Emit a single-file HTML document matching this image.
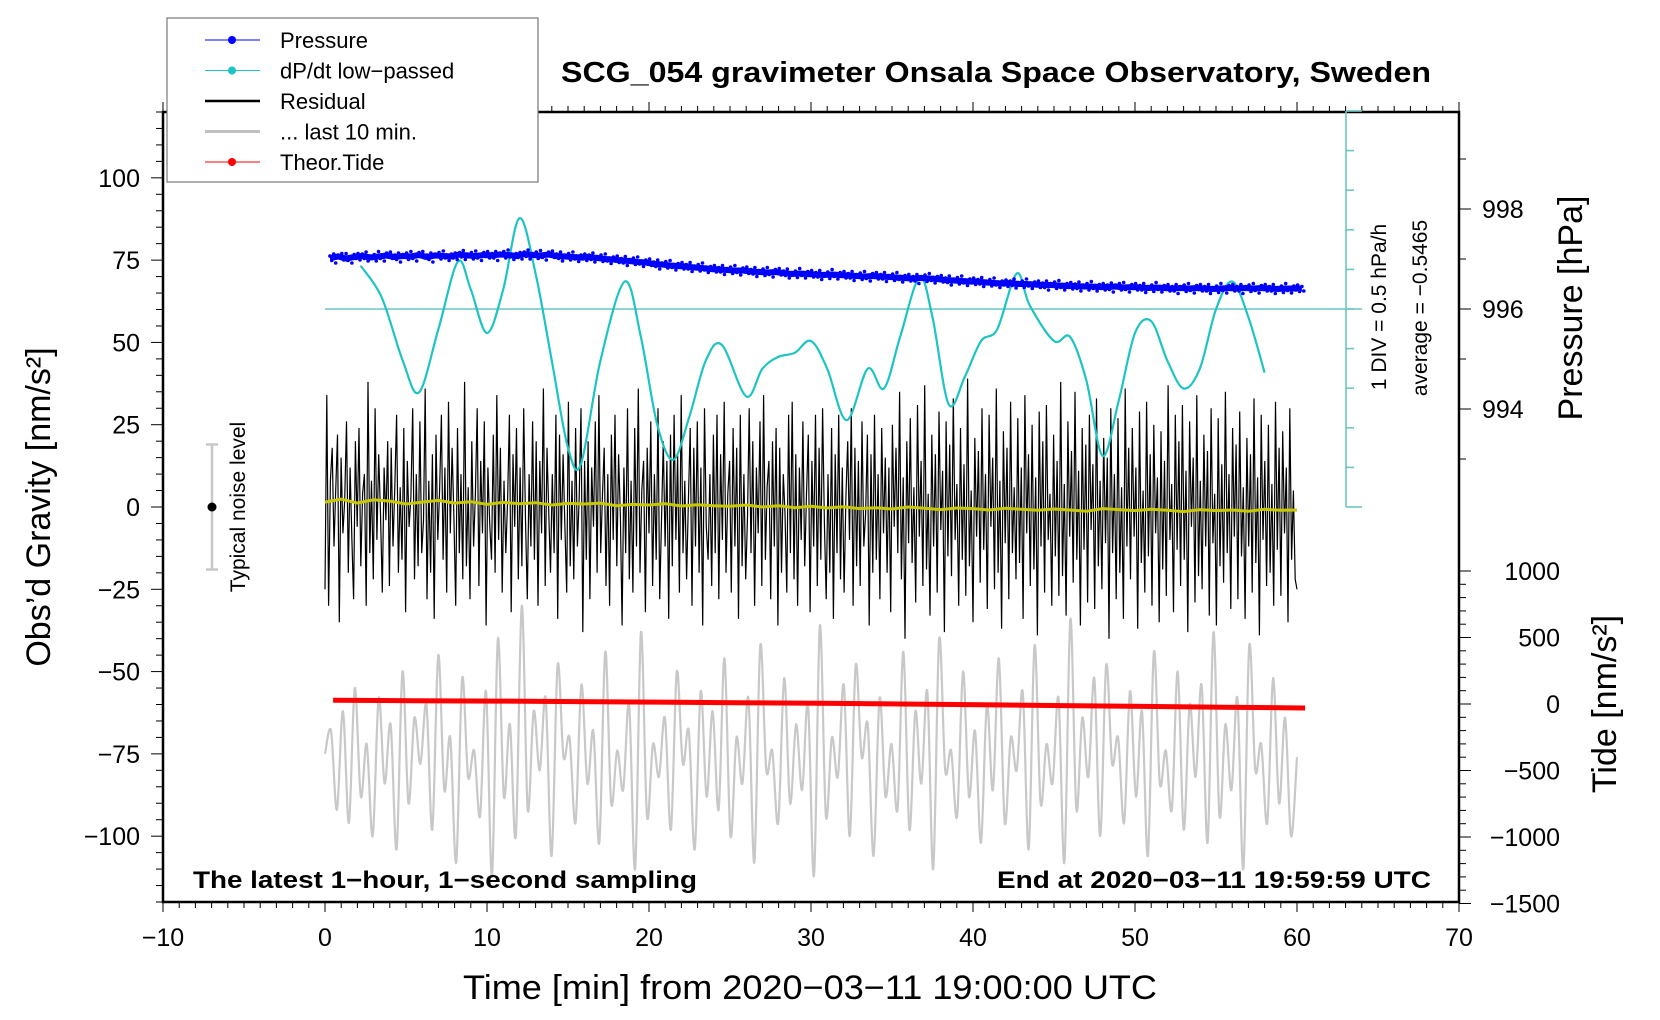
<!DOCTYPE html>
<html><head><meta charset="utf-8"><style>
html,body{margin:0;padding:0;background:#fff;}
svg{display:block;font-family:"Liberation Sans",sans-serif;}
</style></head><body>
<svg id="chart" width="1660" height="1020" viewBox="0 0 1660 1020" xmlns="http://www.w3.org/2000/svg">
<g id="layer-back"></g>
<g id="layer-axes"></g>
</svg>
<script>
// ---------- data ----------
const xTicks = [-10,0,10,20,30,40,50,60,70];
const yTicks = [-100,-75,-50,-25,0,25,50,75,100];
const pTicks = [994,996,998];
const tideTicks = [-1500,-1000,-500,0,500,1000];
// pressure (hPa), one value each 0.5 min from t=0.3
const pressure = [997.02,997.05,997.01,997.04,997.06,997.03,997.05,997.07,997.04,997.06,997.05,997.08,997.04,997.07,997.06,997.05,997.09,997.07,997.06,997.08,
997.07,997.09,997.08,997.06,997.1,997.08,997.07,997.09,997.06,997.05,997.04,997.03,997.04,997.02,997.0,996.99,996.97,996.96,996.94,996.93,
996.9,996.89,996.87,996.86,996.85,996.83,996.82,996.8,996.79,996.78,996.77,996.77,996.75,996.74,996.73,996.74,996.72,996.7,996.71,996.7,
996.69,996.68,996.69,996.68,996.67,996.66,996.65,996.66,996.65,996.64,996.63,996.62,996.61,996.62,996.61,996.6,996.58,996.57,996.56,996.55,
996.55,996.53,996.52,996.51,996.52,996.5,996.5,996.49,996.48,996.48,996.47,996.46,996.46,996.45,996.45,996.44,996.44,996.45,996.43,996.44,
996.43,996.42,996.43,996.42,996.41,996.42,996.41,996.42,996.41,996.4,996.41,996.42,996.41,996.42,996.41,996.42,996.41,996.4,996.41,996.41,996.41];
const pressureJitter = [0.04,-0.05,0.08,-0.1,0.03,-0.02,0.06,-0.07,0.1,-0.04,0.02,-0.09,0.05,-0.03,0.07,-0.06];
// dP/dt low-passed (hPa/h)
const dpTimes = [2.2,3.5,4.8,5.8,7.0,8.2,9.0,10.0,11.0,12.0,13.0,14.0,15.0,15.8,17.0,18.5,19.5,20.5,21.5,22.5,23.5,24.5,26.0,27.0,28.0,29.0,30.0,31.0,32.2,33.5,34.5,35.5,36.7,37.5,38.5,39.5,40.5,41.5,42.7,43.5,45.0,46.0,47.0,48.0,49.0,50.0,51.0,52.0,53.0,54.0,55.0,56.0,57.0,58.0];
const dpValues = [0.0,-0.4,-1.2,-1.6,-0.8,0.05,-0.3,-0.85,-0.3,0.6,-0.1,-1.2,-2.3,-2.5,-1.2,-0.2,-0.9,-2.0,-2.45,-1.9,-1.2,-1.0,-1.65,-1.3,-1.15,-1.1,-0.95,-1.3,-1.95,-1.3,-1.55,-0.9,-0.15,-0.65,-1.75,-1.4,-0.95,-0.8,-0.1,-0.5,-0.95,-0.9,-1.45,-2.4,-1.7,-0.85,-0.7,-1.2,-1.55,-1.3,-0.55,-0.2,-0.65,-1.35];
const dpAverage = -0.5465;
// residual (nm/s^2), every 6 s
const residual = [-25,34,-30,8,18,-12,5,22,-35,15,-8,2,26,-20,12,-10,-28,20,-6,24,-18,4,10,-30,38,-14,8,-22,30,-10,16,-2,-26,12,-4,20,-24,18,-12,6,
28,-20,6,-16,24,-32,14,-6,3,30,-22,10,-18,26,-14,-4,36,-28,8,-20,16,-34,22,-10,5,28,-16,12,-26,32,-8,18,-3,-30,24,-14,10,-22,38,-18,
6,-28,20,-12,4,30,-24,14,-8,26,-36,12,-5,-16,22,-20,34,-10,18,-26,8,-14,2,28,-32,16,-6,24,-22,12,-18,30,-4,-28,10,-12,26,-16,20,-30,
14,-8,36,-24,18,-2,-20,10,-14,28,-34,22,-10,16,-6,-26,32,-18,8,-22,24,-12,3,30,-38,14,-16,20,-28,12,-6,26,-20,34,-14,4,18,-24,10,-30,
22,-10,28,-18,16,-3,-36,12,-14,30,-22,8,-26,24,-12,36,-20,5,14,-32,18,-8,26,-24,10,-16,30,-28,-4,20,-12,14,-34,22,-18,28,-10,16,-26,
34,-14,8,-22,2,24,-30,18,-12,26,-20,12,-36,30,-6,-16,10,-24,22,-14,28,-28,16,-10,32,-20,4,14,-26,24,-12,18,-34,28,-18,10,-22,-3,30,
-14,20,-30,12,-8,26,-24,34,-16,6,14,-28,20,-12,24,-36,18,-20,10,-2,-26,28,-14,32,-22,16,-30,12,-10,26,-18,4,22,-32,14,-12,28,-24,18,
-16,30,-5,-28,10,-20,24,-34,16,-14,28,-22,12,-26,3,20,-10,30,-30,18,-18,14,-24,26,-12,-2,22,-36,16,-20,28,-16,10,-28,24,-8,15,-20,
12,-32,25,-6,18,-14,35,-22,9,-40,20,-11,27,-17,6,-29,31,-9,14,-24,37,-19,4,-33,22,-12,16,-26,29,-7,11,-38,26,-15,19,-21,33,-10,
7,-30,24,-16,13,-27,39,-18,5,-35,21,-9,17,-23,30,-13,10,-31,28,-6,15,-25,36,-20,8,-37,23,-11,18,-28,32,-14,6,-22,27,-17,12,-34,
34,-8,16,-24,25,-19,9,-39,29,-12,20,-26,31,-10,4,-30,22,-15,14,-27,38,-21,7,-33,26,-9,17,-23,35,-16,11,-36,24,-13,19,-29,28,-7,
13,-31,33,-18,8,-25,21,-11,15,-40,30,-14,10,-28,27,-20,6,-34,36,-12,18,-22,24,-9,12,-37,29,-17,5,-26,32,-15,16,-30,25,-8,9,-35,
23,-19,14,-27,37,-10,7,-32,28,-13,20,-24,31,-16,11,-38,26,-6,15,-29,34,-21,8,-25,22,-12,17,-33,30,-11,4,-36,27,-18,13,-23,35,-14,
10,-31,24,-9,19,-28,29,-15,6,-34,21,-12,16,-26,33,-17,9,-39,28,-10,14,-24,25,-20,7,-30,32,-13,18,-27,23,-8,12,-35,30,-16,5,-22,-25];
// yellow smoothed residual, every 1 min
const smooth = [1.5,2.4,1.2,2.2,1.8,0.9,1.5,2.0,1.2,1.6,0.8,1.4,1.0,1.3,0.6,1.1,0.9,1.2,0.4,0.8,0.6,1.0,0.3,0.7,0.4,0.2,0.6,0.0,0.4,-0.2,
0.2,-0.3,0.1,-0.5,-0.2,-0.6,0.0,-0.4,-0.8,-0.3,-0.5,-0.9,-0.4,-0.7,-1.0,-0.6,-0.9,-1.3,-0.5,-0.8,-1.1,-0.7,-1.0,-1.4,-0.8,-1.1,-0.9,-1.3,-0.7,-1.0,-0.9];
// last 10 min (shifted, nm/s^2 on left axis), every 0.35 min
const last10 = [-75,-68,-92,-62,-96,-55,-88,-72,-100,-58,-84,-66,-104,-50,-90,-64,-78,-60,-98,-45,-86,-70,-108,-52,-82,-74,-94,-56,-112,-40,
-88,-66,-100,-30,-92,-62,-80,-58,-106,-48,-76,-70,-96,-54,-84,-68,-102,-44,-90,-74,-86,-60,-110,-38,-94,-72,-82,-64,-98,-50,
-78,-68,-104,-56,-88,-62,-92,-46,-100,-70,-84,-58,-108,-42,-80,-74,-96,-52,-90,-66,-86,-60,-112,-36,-94,-70,-82,-54,-100,-48,
-76,-66,-106,-58,-88,-72,-92,-44,-98,-62,-84,-56,-110,-40,-80,-74,-94,-50,-88,-68,-102,-60,-86,-46,-96,-70,-80,-56,-104,-42,
-90,-72,-84,-58,-108,-34,-92,-64,-82,-52,-100,-48,-78,-70,-96,-56,-88,-62,-106,-44,-84,-74,-92,-50,-98,-60,-82,-54,-102,-38,
-94,-66,-86,-58,-110,-42,-80,-72,-96,-52,-90,-64,-100,-76];
// theoretical tide (nm/s^2), every 5 min from 0.5
const tide = [28,25,22,18,14,10,5,0,-6,-12,-18,-24,-30];

// ---------- scales ----------
const X0=163, X1=1459, Y0=902, Y1=112;
const xs = t => X0 + (t+10)*(X1-X0)/80;
const ys = v => 507 - v*(Y0-Y1)/240;
const ps = p => 309 - (p-996)*50;
const ts = v => 704 - v*66.5/500;
const dps = v => 309 - (v-dpAverage)/0.5*39.6;

const NS="http://www.w3.org/2000/svg";
const back=document.getElementById('layer-back');
const axes=document.getElementById('layer-axes');
function mk(tag, attrs, parent, text){
  const e=document.createElementNS(NS,tag);
  for(const k in attrs) e.setAttribute(k,attrs[k]);
  if(text!==undefined) e.textContent=text;
  parent.appendChild(e); return e;
}
function smoothPath(pts){
  let d='M'+pts[0][0].toFixed(1)+' '+pts[0][1].toFixed(1);
  for(let i=0;i<pts.length-1;i++){
    const p0=pts[Math.max(0,i-1)],p1=pts[i],p2=pts[i+1],p3=pts[Math.min(pts.length-1,i+2)];
    const c1=[p1[0]+(p2[0]-p0[0])/6,p1[1]+(p2[1]-p0[1])/6];
    const c2=[p2[0]-(p3[0]-p1[0])/6,p2[1]-(p3[1]-p1[1])/6];
    d+=`C${c1[0].toFixed(1)} ${c1[1].toFixed(1)} ${c2[0].toFixed(1)} ${c2[1].toFixed(1)} ${p2[0].toFixed(1)} ${p2[1].toFixed(1)}`;
  }
  return d;
}

// gray last-10-min
{
  const pts=last10.map((v,i)=>[xs(i*60/(last10.length-1)),ys(v)]);
  const e=mk('path',{d:smoothPath(pts),fill:'none',stroke:'#c8c8c8','stroke-width':2.2,'stroke-linejoin':'round'},back);
  
  
}
// residual
{
  let d='';
  residual.forEach((v,i)=>{const t=i*60/(residual.length-1); d+=(i?'L':'M')+xs(t).toFixed(1)+' '+ys(v).toFixed(1);});
  const e=mk('path',{d:d,fill:'none',stroke:'#000','stroke-width':1.2},back);
  
  
}
// yellow smooth
{
  let d='';
  smooth.forEach((v,i)=>{const t=i; d+=(i?'L':'M')+xs(t).toFixed(1)+' '+ys(v).toFixed(1);});
  const e=mk('path',{d:d,fill:'none',stroke:'#c8c800','stroke-width':3},back);
  
  
}
// red tide
{
  let d='';
  tide.forEach((v,i)=>{const t=0.5+i*5; d+=(i?'L':'M')+xs(t).toFixed(1)+' '+ts(v).toFixed(1);});
  const e=mk('path',{d:d,fill:'none',stroke:'#ff0000','stroke-width':5},back);
  
  
}
// cyan baseline & dP/dt
{
  const b=mk('line',{x1:xs(0),x2:1362,y1:dps(dpAverage),y2:dps(dpAverage),stroke:'#6cc6c0','stroke-width':1.6},back);
  
  
  const pts=dpTimes.map((t,i)=>[xs(t),dps(dpValues[i])]);
  const e=mk('path',{d:smoothPath(pts),fill:'none',stroke:'#1ec4c4','stroke-width':2.2},back);
  
  
}
// pressure
{
  let d='';
  pressure.forEach((v,i)=>{const t=0.3+i*0.5; d+=(i?'L':'M')+xs(t).toFixed(1)+' '+ps(v).toFixed(1);});
  const e=mk('path',{d:d,fill:'none',stroke:'#0000ff','stroke-width':6},back);
  
  
  const g=mk('g',{fill:'#0000ff'},back);
  
  
  pressure.forEach((v,i)=>{
    for(let k=0;k<4;k++){
      const t=0.3+i*0.5+k*0.12;
      if(t>60.5) continue;
      const jv=pressureJitter[(i*4+k)%pressureJitter.length];
      mk('circle',{cx:xs(t).toFixed(1),cy:ps(v+jv).toFixed(1),r:1.8},g);
    }
  });
}
// noise bar
{
  const g=mk('g',{},back);
  
  
  mk('line',{x1:212,x2:212,y1:ys(19),y2:ys(-19),stroke:'#c8c8c8','stroke-width':2.5},g);
  mk('line',{x1:206,x2:218,y1:ys(19),y2:ys(19),stroke:'#c8c8c8','stroke-width':2.5},g);
  mk('line',{x1:206,x2:218,y1:ys(-19),y2:ys(-19),stroke:'#c8c8c8','stroke-width':2.5},g);
  mk('circle',{cx:212,cy:ys(0),r:4.5,fill:'#000'},g);
  const t=mk('text',{x:0,y:0,transform:`translate(245,${ys(0)}) rotate(-90)`,'text-anchor':'middle','font-size':21},g,'Typical noise level');
  
  
}

// ---------- axes ----------
mk('rect',{x:X0,y:Y1,width:X1-X0,height:Y0-Y1,fill:'none',stroke:'#000','stroke-width':2.5},axes);
for(let t=-10;t<=70;t+=1){
  const major=t%10===0;
  const L=major?10:6;
  mk('line',{x1:xs(t),x2:xs(t),y1:Y0,y2:Y0+L,stroke:'#000','stroke-width':1},axes);
  mk('line',{x1:xs(t),x2:xs(t),y1:Y1,y2:Y1-L,stroke:'#000','stroke-width':1},axes);
}
xTicks.forEach(t=>{
  const e=mk('text',{x:xs(t),y:946,'text-anchor':'middle','font-size':25},axes,String(t).replace('-','\u2212'));
  
  
});
for(let v=-120;v<=120;v+=5){
  const L=v%25===0?12:7;
  mk('line',{x1:X0-L,x2:X0,y1:ys(v),y2:ys(v),stroke:'#000','stroke-width':1},axes);
}
yTicks.forEach(v=>{
  const e=mk('text',{x:140,y:ys(v)+9,'text-anchor':'end','font-size':25},axes,String(v).replace('-','\u2212'));
  
  
});
for(let p=993;p<=999;p+=1){
  const L=p%2===0?12:7;
  mk('line',{x1:X1,x2:X1+L,y1:ps(p),y2:ps(p),stroke:'#000','stroke-width':1},axes);
}
pTicks.forEach(p=>{
  const e=mk('text',{x:1482,y:ps(p)+9,'text-anchor':'start','font-size':25},axes,String(p));
  
  
});
for(let v=-1500;v<=1000;v+=100){
  const L=v%500===0?12:7;
  mk('line',{x1:X1,x2:X1+L,y1:ts(v),y2:ts(v),stroke:'#000','stroke-width':1},axes);
}
tideTicks.forEach(v=>{
  const e=mk('text',{x:1560,y:ts(v)+9,'text-anchor':'end','font-size':25},axes,String(v).replace('-','\u2212'));
  
  
});
// cyan scale bar
{
  const g=mk('g',{stroke:'#6cc6c0','stroke-width':1.6},axes);
  
  
  mk('line',{x1:1346,x2:1346,y1:111,y2:507},g);
  for(let k=-5;k<=5;k++){
    const y=309+k*39.6, L=(k===5||k===-5)?16:8;
    mk('line',{x1:1346,x2:1346+L,y1:y,y2:y},g);
  }
}
</script>
<script>
const A=document.getElementById('chart');
const NS2="http://www.w3.org/2000/svg";
function tx(attrs,text,name){
  const e=document.createElementNS(NS2,'text');
  for(const k in attrs) e.setAttribute(k,attrs[k]);
  e.textContent=text;
  
  
  A.appendChild(e); return e;
}
tx({x:561,y:82,'font-size':29,'font-weight':'bold',textLength:870,lengthAdjust:'spacingAndGlyphs'},'SCG_054 gravimeter Onsala Space Observatory, Sweden','chart-title');
tx({x:193,y:888,'font-size':24,'font-weight':'bold',textLength:504,lengthAdjust:'spacingAndGlyphs'},'The latest 1\u2212hour, 1\u2212second sampling','sampling-note');
tx({x:997,y:888,'font-size':24,'font-weight':'bold',textLength:434,lengthAdjust:'spacingAndGlyphs'},'End at 2020\u221203\u221211 19:59:59 UTC','end-time-note');
tx({x:463,y:999,'font-size':34,textLength:694,lengthAdjust:'spacingAndGlyphs'},'Time [min] from 2020\u221203\u221211 19:00:00 UTC','x-axis-title');
tx({x:0,y:0,transform:'translate(50,507) rotate(-90)','text-anchor':'middle','font-size':34},'Obs\u2019d Gravity [nm/s\u00b2]','y-axis-title');
tx({x:0,y:0,transform:'translate(1582,308) rotate(-90)','text-anchor':'middle','font-size':34},'Pressure [hPa]','pressure-axis-title');
tx({x:0,y:0,transform:'translate(1616,704) rotate(-90)','text-anchor':'middle','font-size':34},'Tide [nm/s\u00b2]','tide-axis-title');
tx({x:0,y:0,transform:'translate(1386,307) rotate(-90)','text-anchor':'middle','font-size':21},'1 DIV = 0.5 hPa/h','dpdt-scale-label');
tx({x:0,y:0,transform:'translate(1427,308) rotate(-90)','text-anchor':'middle','font-size':21},'average = \u22120.5465','dpdt-average-label');

const lg=document.createElementNS(NS2,'g');


A.appendChild(lg);
const box=document.createElementNS(NS2,'rect');
[['x',167],['y',18],['width',371],['height',164],['fill','#fff'],['stroke','#777'],['stroke-width',1.2]].forEach(a=>box.setAttribute(a[0],a[1]));
lg.appendChild(box);
const entries=[['Pressure','#0000ff',1,true],['dP/dt low\u2212passed','#1ec4c4',1,true],['Residual','#000',2.5,false],['... last 10 min.','#c0c0c0',3,false],['Theor.Tide','#ff0000',1,true]];
entries.forEach((en,i)=>{
  const y=40+i*30.5;
  const g=document.createElementNS(NS2,'g');
  
  
  lg.appendChild(g);
  const l=document.createElementNS(NS2,'line');
  [['x1',205],['x2',260],['y1',y],['y2',y],['stroke',en[1]],['stroke-width',en[2]]].forEach(a=>l.setAttribute(a[0],a[1]));
  g.appendChild(l);
  if(en[3]){const c=document.createElementNS(NS2,'circle');[['cx',232],['cy',y],['r',4],['fill',en[1]]].forEach(a=>c.setAttribute(a[0],a[1]));g.appendChild(c);}
  const t=document.createElementNS(NS2,'text');
  [['x',280],['y',y+8],['font-size',22]].forEach(a=>t.setAttribute(a[0],a[1]));
  t.textContent=en[0];
  g.appendChild(t);
});
</script>
</body></html>
